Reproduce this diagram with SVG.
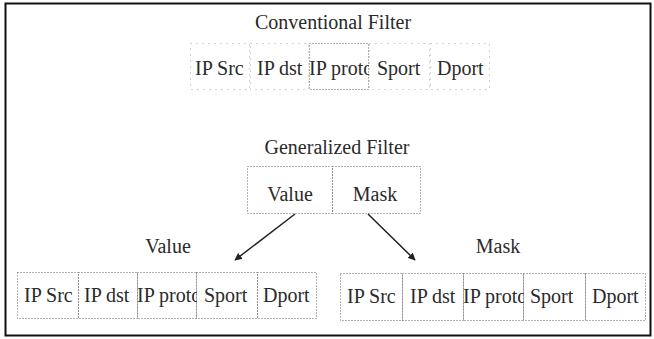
<svg xmlns="http://www.w3.org/2000/svg" width="654" height="339" viewBox="0 0 654 339">
<style>
.t{font-family:"Liberation Serif","Times New Roman",serif;font-size:20px;fill:#2a2a2a}
.c{text-anchor:middle}
.cell{fill:none;stroke:#666;stroke-width:1;stroke-dasharray:1 2}
.faint{fill:none;stroke:#aaa;stroke-width:1;stroke-dasharray:1 5}
.conn{stroke:#222;stroke-width:1.5;fill:none}
</style>
<defs>
<marker id="ah" viewBox="0 0 10 10" refX="9" refY="5" markerWidth="5" markerHeight="5" orient="auto">
<path d="M0,0 L10,5 L0,10 z" fill="#222"/>
</marker>
</defs>
<rect x="5.5" y="3.5" width="645" height="332" fill="#fff" stroke="#111" stroke-width="2"/>

<g id="conventional">
<text class="t c" x="333" y="29">Conventional Filter</text>
<svg x="190" y="43" width="60" height="47"><rect class="faint" x="0.5" y="0.5" width="59" height="46"/><text class="t" x="5" y="32">IP Src</text></svg>
<svg x="250" y="43" width="59" height="47"><rect class="faint" x="0.5" y="0.5" width="58" height="46"/><text class="t" x="7" y="32">IP dst</text></svg>
<svg x="309" y="43" width="60" height="47"><rect class="cell" x="0.5" y="0.5" width="59" height="46"/><text class="t" x="0" y="32">IP proto</text></svg>
<svg x="369" y="43" width="61" height="47"><rect class="faint" x="0.5" y="0.5" width="60" height="46"/><text class="t" x="8" y="32">Sport</text></svg>
<svg x="430" y="43" width="60" height="47"><rect class="faint" x="0.5" y="0.5" width="59" height="46"/><text class="t" x="7" y="32">Dport</text></svg>
</g>

<g id="generalized">
<text class="t c" x="337" y="154">Generalized Filter</text>
<svg x="247" y="166" width="86" height="48"><rect class="cell" x="0.5" y="0.5" width="85" height="47"/><text class="t c" x="43" y="35">Value</text></svg>
<svg x="332" y="166" width="89" height="48"><rect class="cell" x="0.5" y="0.5" width="88" height="47"/><text class="t c" x="43" y="35">Mask</text></svg>
</g>

<g id="value">
<text class="t c" x="168" y="253">Value</text>
<svg x="17" y="272" width="62" height="47"><rect class="cell" x="0.5" y="0.5" width="61" height="46"/><text class="t" x="7" y="30">IP Src</text></svg>
<svg x="78" y="272" width="60" height="47"><rect class="cell" x="0.5" y="0.5" width="59" height="46"/><text class="t" x="6" y="30">IP dst</text></svg>
<svg x="137" y="272" width="60" height="47"><rect class="cell" x="0.5" y="0.5" width="59" height="46"/><text class="t" x="0" y="30">IP proto</text></svg>
<svg x="196" y="272" width="62" height="47"><rect class="cell" x="0.5" y="0.5" width="61" height="46"/><text class="t" x="8" y="30">Sport</text></svg>
<svg x="257" y="272" width="60" height="47"><rect class="cell" x="0.5" y="0.5" width="59" height="46"/><text class="t" x="6" y="30">Dport</text></svg>
</g>

<g id="mask">
<text class="t c" x="498" y="253">Mask</text>
<svg x="340" y="273" width="63" height="48"><rect class="cell" x="0.5" y="0.5" width="62" height="47"/><text class="t" x="7" y="30">IP Src</text></svg>
<svg x="402" y="273" width="62" height="48"><rect class="cell" x="0.5" y="0.5" width="61" height="47"/><text class="t" x="8" y="30">IP dst</text></svg>
<svg x="463" y="273" width="61" height="48"><rect class="cell" x="0.5" y="0.5" width="60" height="47"/><text class="t" x="0" y="30">IP proto</text></svg>
<svg x="523" y="273" width="63" height="48"><rect class="cell" x="0.5" y="0.5" width="62" height="47"/><text class="t" x="7" y="30">Sport</text></svg>
<svg x="585" y="273" width="61" height="48"><rect class="cell" x="0.5" y="0.5" width="60" height="47"/><text class="t" x="7" y="30">Dport</text></svg>
</g>

<g id="connectors">
<line class="conn" x1="295" y1="214" x2="235" y2="260" marker-end="url(#ah)"/>
<line class="conn" x1="368" y1="214" x2="415" y2="260" marker-end="url(#ah)"/>
</g>
</svg>
